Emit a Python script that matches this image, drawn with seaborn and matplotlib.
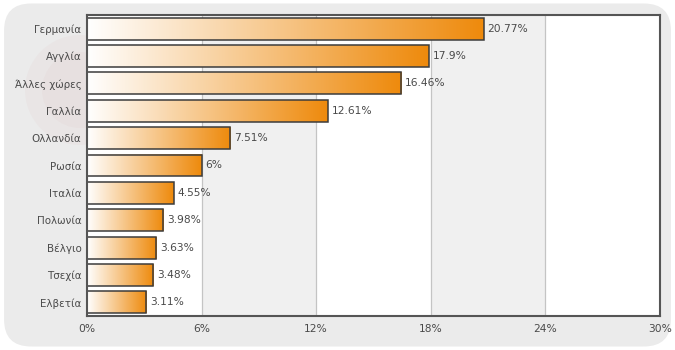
import numpy as np
import pandas as pd
import matplotlib
matplotlib.use("Agg")
import matplotlib.pyplot as plt
from matplotlib.colors import LinearSegmentedColormap
from matplotlib.patches import FancyBboxPatch, Ellipse
import seaborn as sns

countries = ["Γερμανία", "Αγγλία", "Άλλες χώρες", "Γαλλία", "Ολλανδία", "Ρωσία",
             "Ιταλία", "Πολωνία", "Βέλγιο", "Τσεχία", "Ελβετία"]
shares = [20.77, 17.9, 16.46, 12.61, 7.51, 6, 4.55, 3.98, 3.63, 3.48, 3.11]
share_labels = ["20.77%", "17.9%", "16.46%", "12.61%", "7.51%", "6%",
                "4.55%", "3.98%", "3.63%", "3.48%", "3.11%"]
x_ticks = [0, 6, 12, 18, 24, 30]
x_tick_labels = ["0%", "6%", "12%", "18%", "24%", "30%"]

df = pd.DataFrame({"country": countries, "share": shares})

sns.set_style("white")
plt.rcParams["font.family"] = ["DejaVu Sans"]
text_color = "#4a4a4a"

W, H = 675, 350
fig = plt.figure(figsize=(W / 100, H / 100), dpi=100)
fig.patch.set_facecolor("white")

# rounded grey panel behind everything
panel = FancyBboxPatch((0.006, 0.01), 0.988, 0.98,
                       boxstyle="round,pad=0,rounding_size=0.04",
                       transform=fig.transFigure, facecolor="#ebebeb",
                       edgecolor="none", zorder=-2, mutation_aspect=W / H)
fig.patches.append(panel)

# faint seal in the panel's left margin
cx, cy = 80 / W, 1 - 90 / H
for r, a in [(55, 0.035), (38, 0.03)]:
    e = Ellipse((cx, cy), 2 * r / W, 2 * r / H, transform=fig.transFigure,
                facecolor="#c0504d", alpha=a, edgecolor="none", zorder=-1)
    fig.patches.append(e)

ax = fig.add_axes([87 / W, 1 - 316 / H, (660 - 87) / W, (316 - 15) / H])
ax.set_zorder(1)
ax.set_facecolor("white")

sns.barplot(data=df, x="share", y="country", order=countries, orient="h",
            width=0.8, ax=ax, color="#ee8c10", edgecolor="#3c3c3c",
            linewidth=1.1, zorder=2)
bars = list(ax.containers[0])

# alternating column bands and grid lines
for i in range(len(x_ticks) - 1):
    if i % 2 == 1:
        ax.axvspan(x_ticks[i], x_ticks[i + 1], color="#f0f0f0", zorder=0, lw=0)
for xv in x_ticks[1:-1]:
    ax.axvline(xv, color="#c4c4c4", lw=0.9, zorder=0.5)

# white-to-orange fade inside each bar, plus the value label at its end
cmap = LinearSegmentedColormap.from_list("bar_fade", ["#ffffff", "#ee8a0c"])
grad = np.linspace(0, 1, 256).reshape(1, -1)
for patch, label in zip(bars, share_labels):
    x0, y0 = patch.get_x(), patch.get_y()
    w, h = patch.get_width(), patch.get_height()
    patch.set_facecolor("none")
    ax.imshow(grad, cmap=cmap, aspect="auto", extent=(x0, x0 + w, y0 + h, y0),
              zorder=1.5, interpolation="bilinear")
    ax.text(x0 + w + 0.2, y0 + h / 2, label, va="center", ha="left",
            fontsize=7.7, color=text_color, zorder=3)

ax.set_xlim(0, 30)
ax.set_ylim(len(countries) - 0.5, -0.5)
ax.set_xticks(x_ticks)
ax.set_xticklabels(x_tick_labels)
ax.set_xlabel("")
ax.set_ylabel("")
ax.tick_params(axis="both", length=0, colors=text_color)
ax.tick_params(axis="x", pad=6, labelsize=7.7)
ax.tick_params(axis="y", pad=4, labelsize=7.4)
for s in ax.spines.values():
    s.set_visible(True)
    s.set_color("#555555")
    s.set_linewidth(1.5)

fig.savefig("out.png", dpi=100)
